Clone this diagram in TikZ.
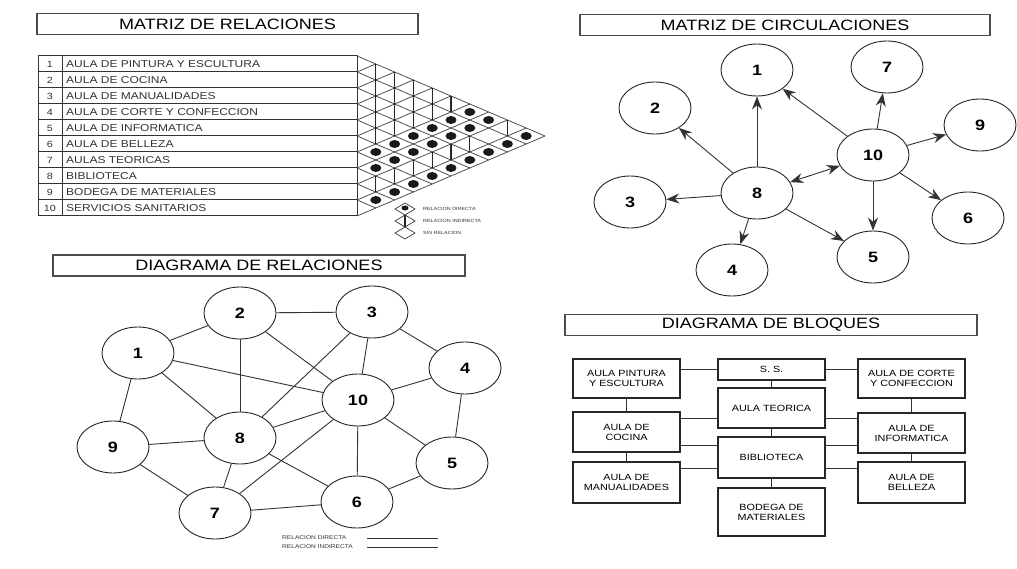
\documentclass[tikz,border=0pt]{standalone}
\usepackage{fontspec}
\setmainfont{Liberation Sans}[FakeStretch=1.2]
\usetikzlibrary{shapes.geometric, arrows.meta, calc}

\tikzset{
  titlebox/.style={draw=black!70, line width=1.3pt, minimum height=21pt, inner sep=0pt, font=\fontsize{15}{15}\selectfont},
  room/.style={ellipse, draw=black!85, line width=0.9pt, minimum width=72pt, minimum height=52pt, inner sep=0pt, font=\fontsize{15}{15}\selectfont\bfseries},
  link/.style={line width=0.9pt, black!80},
  circ/.style={line width=0.9pt, black!80, >={Stealth[length=13pt,width=10pt]}, ->},
  block/.style={draw=black!85, line width=1.1pt, minimum width=107pt, inner sep=0pt, align=center, font=\fontsize{9}{10}\selectfont},
  rule/.style={line width=1pt, black!80},
  grid/.style={line width=0.7pt, black!75},
  bar/.style={line width=1.3pt, black!85},
  rowtxt/.style={anchor=west, inner sep=0pt, font=\fontsize{10}{10}\selectfont, black!80},
  numtxt/.style={inner sep=0pt, font=\fontsize{9}{9}\selectfont, black!80},
  tiny/.style={anchor=west, inner sep=0pt, font=\fontsize{4.5}{4.5}\selectfont, black!80},
}

\begin{document}
\begin{tikzpicture}[x=1pt, y=-1pt]
  \fill[white] (0,0) rectangle (1017,569);
  \useasboundingbox (0,0) rectangle (1017,569);

  \node[titlebox, minimum width=381pt] (tmr) at (227.5,24) {MATRIZ DE RELACIONES};
  \node[titlebox, minimum width=410pt] (tmc) at (785,25) {MATRIZ DE CIRCULACIONES};
  \node[titlebox, minimum width=412pt] (tdr) at (259,265.5) {DIAGRAMA DE RELACIONES};
  \node[titlebox, minimum width=412pt] (tdb) at (771,325) {DIAGRAMA DE BLOQUES};

  % matriz de relaciones
  \draw[rule] (38,56) rectangle (357,216);
  \foreach \k in {1,...,9} \draw[rule] (38,56+16*\k) -- (357,56+16*\k);
  \draw[rule] (62,56) -- (62,216);
  \foreach \n/\t in {1/AULA DE PINTURA Y ESCULTURA, 2/AULA DE COCINA, 3/AULA DE MANUALIDADES,
      4/AULA DE CORTE Y CONFECCION, 5/AULA DE INFORMATICA, 6/AULA DE BELLEZA, 7/AULAS TEORICAS,
      8/BIBLIOTECA, 9/BODEGA DE MATERIALES, 10/SERVICIOS SANITARIOS} {
    \node[numtxt] (n\n) at (50,48+16*\n) {\n};
    \node[rowtxt] (m\n) at (66,48+16*\n) {\t};
  }
  \def\hw{18.8}
  \foreach \k in {0,...,10} {
    \draw[grid] (357,56+16*\k) -- ++({(10-\k)*\hw},{(10-\k)*8});
    \draw[grid] (357,56+16*\k) -- ++({\k*\hw},{-\k*8});
  }
  \foreach \i/\j in {1/7,2/7,3/7,4/7,5/7,6/7,1/8,2/8,3/8,4/8,5/8,6/8,7/8,
      1/10,2/10,3/10,4/10,5/10,6/10,7/10,8/10,9/10}
    \fill[black!90] ({357+(\j-\i)*\hw},{48+8*(\i+\j)}) ellipse (5.5 and 4);
  \foreach \i/\j in {1/2,1/3,1/4,1/5,1/6,2/3,2/4,2/5,2/6,3/4,3/5,3/6,4/5,4/6,5/6,
      1/9,3/9,4/9,5/9,6/9,7/9,8/9}
    \draw[bar] ({357+(\j-\i)*\hw},{40+8*(\i+\j)}) -- ++(0,16);

  % leyenda
  \foreach \y in {209,221,233}
    \draw[grid] (395,\y) -- (405,\y-6) -- (415,\y) -- (405,\y+6) -- cycle;
  \fill[black!90] (405,208) ellipse (3.5 and 2.5);
  \draw[bar] (405,215) -- (405,227);
  \node[tiny] (ldir) at (423,209) {RELACION DIRECTA};
  \node[tiny] (lind) at (423,221) {RELACION INDIRECTA};
  \node[tiny] (lsin) at (423,233) {SIN RELACION};

  % matriz de circulaciones
  \node[room] (c1) at (757,70) {1};
  \node[room] (c2) at (655,108) {2};
  \node[room] (c3) at (630,202) {3};
  \node[room] (c4) at (732,270) {4};
  \node[room] (c5) at (873,257) {5};
  \node[room] (c6) at (968,218) {6};
  \node[room] (c7) at (887,67) {7};
  \node[room] (c8) at (757,193) {8};
  \node[room] (c9) at (980,125) {9};
  \node[room] (c10) at (873,155) {10};
  \path[circ]
    (c8) edge (c1)
    (c8) edge (c2)
    (c8) edge (c3)
    (c8) edge (c4)
    (c8) edge (c5)
    (c10) edge (c1)
    (c10) edge (c7)
    (c10) edge (c9)
    (c10) edge (c6)
    (c10) edge (c5)
    (c8) edge[<->] (c10);

  % diagrama de relaciones
  \node[room] (d1) at (138,353) {1};
  \node[room] (d2) at (240,313) {2};
  \node[room] (d3) at (372,312) {3};
  \node[room] (d4) at (465,368) {4};
  \node[room] (d5) at (452,463) {5};
  \node[room] (d6) at (357,502) {6};
  \node[room] (d7) at (215,513) {7};
  \node[room] (d8) at (240,438) {8};
  \node[room] (d9) at (113,447) {9};
  \node[room] (d10) at (358,400) {10};
  \foreach \a/\b in {1/2,2/3,2/8,2/10,1/10,1/8,1/9,3/4,3/10,3/8,4/10,4/5,
      10/8,10/7,10/6,10/5,9/8,9/7,8/7,8/6,7/6,6/5}
    \draw[link] (d\a) -- (d\b);
  \node[tiny, font=\fontsize{5.5}{5.5}\selectfont] (rdir) at (282,538) {RELACION DIRECTA};
  \node[tiny, font=\fontsize{5.5}{5.5}\selectfont] (rind) at (282,547) {RELACION INDIRECTA};
  \draw[link] (367,538) -- (438,538);
  \draw[link] (367,547) -- (438,547);

  % diagrama de bloques
  \node[block, minimum height=39pt] (pintura) at (626.5,378.5) {AULA PINTURA\\Y ESCULTURA};
  \node[block, minimum height=21pt] (ss) at (771.5,369.5) {S. S.};
  \node[block, minimum height=39pt] (corte) at (911.5,378.5) {AULA DE CORTE\\Y CONFECCION};
  \node[block, minimum height=40pt] (teorica) at (771.5,408) {AULA TEORICA};
  \node[block, minimum height=40pt] (cocina) at (626.5,432) {AULA DE\\COCINA};
  \node[block, minimum height=40pt] (informatica) at (911.5,433) {AULA DE\\INFORMATICA};
  \node[block, minimum height=41pt] (biblioteca) at (771.5,457.5) {BIBLIOTECA};
  \node[block, minimum height=41pt] (manualidades) at (626.5,482.5) {AULA DE\\MANUALIDADES};
  \node[block, minimum height=41pt] (belleza) at (911.5,482.5) {AULA DE\\BELLEZA};
  \node[block, minimum height=48pt] (bodega) at (771.5,512) {BODEGA DE\\MATERIALES};
  \coordinate (tw) at ([yshift=-10pt]teorica.west);
  \coordinate (te) at ([yshift=-10pt]teorica.east);
  \coordinate (bwu) at ([yshift=12.5pt]biblioteca.west);
  \coordinate (beu) at ([yshift=12.5pt]biblioteca.east);
  \coordinate (bwd) at ([yshift=-10.5pt]biblioteca.west);
  \coordinate (bed) at ([yshift=-10.5pt]biblioteca.east);
  \draw[link] (ss.west) -- (ss.west -| pintura.east);
  \draw[link] (ss.east) -- (ss.east -| corte.west);
  \draw[link] (ss.south) -- (teorica.north);
  \draw[link] (pintura.south) -- (cocina.north);
  \draw[link] (corte.south) -- (informatica.north);
  \draw[link] (tw) -- (tw -| cocina.east);
  \draw[link] (te) -- (te -| informatica.west);
  \draw[link] (teorica.south) -- (biblioteca.north);
  \draw[link] (bwu) -- (bwu -| cocina.east);
  \draw[link] (beu) -- (beu -| informatica.west);
  \draw[link] (cocina.south) -- (manualidades.north);
  \draw[link] (informatica.south) -- (belleza.north);
  \draw[link] (bwd) -- (bwd -| manualidades.east);
  \draw[link] (bed) -- (bed -| belleza.west);
  \draw[link] (biblioteca.south) -- (bodega.north);
\end{tikzpicture}
\end{document}
